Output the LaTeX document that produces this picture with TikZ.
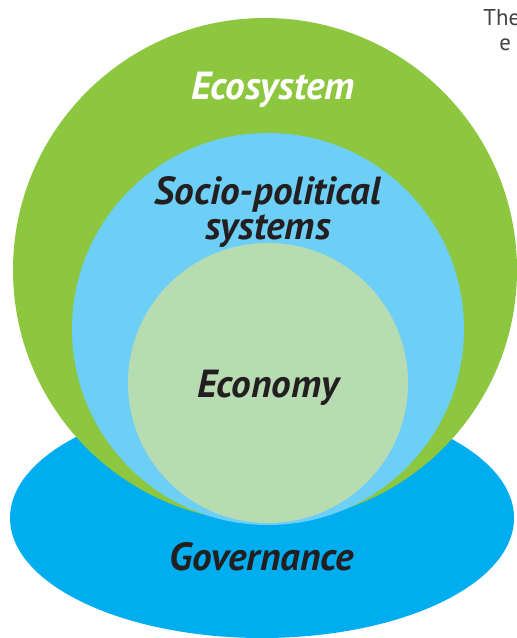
\documentclass[tikz,border=0pt]{standalone}
\usepackage{fontspec}
\setmainfont{PT Sans}
\definecolor{ecogreen}{RGB}{141, 198, 63}
\definecolor{socioblue}{RGB}{109, 207, 246}
\definecolor{econgreen}{RGB}{183, 220, 178}
\definecolor{govblue}{RGB}{0, 174, 239}
\definecolor{inkdark}{RGB}{35, 31, 32}
\usepackage{tikz}
\usetikzlibrary{positioning}

\tikzset{
  ringlabel/.style={font=\fontsize{22.3}{20}\selectfont\bfseries\itshape, text=inkdark, align=center, inner sep=0pt}
}

\begin{document}
\begin{tikzpicture}
  \useasboundingbox (0, 0) rectangle (10.34, 12.76);

  % Governance underneath
  \fill[govblue] (5.24, 2.40) ellipse [x radius=5.04, y radius=2.40];

  % Nested circles
  \fill[ecogreen] (5.30, 7.36) circle (5.04);
  \fill[socioblue] (5.36, 6.18) circle (3.92);
  \fill[econgreen] (5.36, 5.10) circle (2.80);

  % Labels
  \node[ringlabel, text=white] (eco) at (5.46, 10.96) {Ecosystem};
  \node[ringlabel] (socio) at (5.36, 8.52) {Socio-political\\systems};
  \node[ringlabel] (econ) at (5.36, 5.00) {Economy};
  \node[ringlabel] (gov) at (5.24, 1.62) {Governance};

  % Text from the next column
  \node[font=\fontsize{13}{14}\selectfont, text=inkdark!85, anchor=west, inner sep=0pt] (the) at (9.66, 12.40) {The};
  \node[font=\fontsize{13}{14}\selectfont, text=inkdark!85, anchor=west, inner sep=0pt] (ee) at (9.98, 11.86) {e};
\end{tikzpicture}
\end{document}
